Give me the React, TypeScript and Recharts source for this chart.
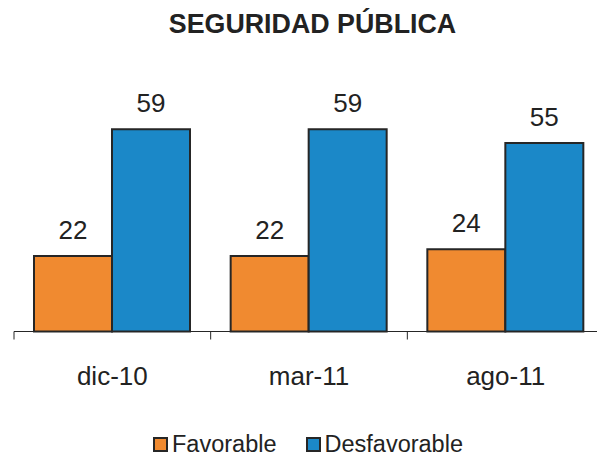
import React from "react";
import { BarChart, Bar, XAxis, YAxis, LabelList, Legend } from "recharts";

const categories = ["dic-10", "mar-11", "ago-11"];
const favorable = [22, 22, 24];
const desfavorable = [59, 59, 55];
const seriesNames = ["Favorable", "Desfavorable"];
const title = "SEGURIDAD PÚBLICA";

const data = categories.map((c, i) => ({ name: c, Favorable: favorable[i], Desfavorable: desfavorable[i] }));

const FONT = '"Liberation Sans", Arial, sans-serif';
const ORANGE = "#F08A30";
const BLUE = "#1B88C8";
const DARK = "#262626";
const COLORS: Record<string, string> = { Favorable: ORANGE, Desfavorable: BLUE };

const CatTick = (props: any) => {
  const { x, y, payload, width, visibleTicksCount, index } = props;
  const band = width / visibleTicksCount;
  const left = x - band / 2;
  const right = x + band / 2;
  return (
    <g>
      <line x1={left} y1={y} x2={left} y2={y + 8} stroke={DARK} strokeWidth={1} />
      {index === visibleTicksCount - 1 && (
        <line x1={right} y1={y} x2={right} y2={y + 8} stroke={DARK} strokeWidth={1} />
      )}
      <text x={x} y={y + 53.5} textAnchor="middle" fontSize={26} fill="#222" fontFamily={FONT}>
        {payload.value}
      </text>
    </g>
  );
};

const LegendContent = () => {
  return (
    <div
      style={{
        height: 30,
        boxSizing: "border-box",
        paddingTop: 7,
        paddingLeft: 153,
        display: "flex",
        alignItems: "center",
        fontFamily: FONT,
        fontSize: 23.5,
        color: "#222",
      }}
    >
      {seriesNames.map((name, i) => (
        <div key={name} style={{ display: "flex", alignItems: "center", marginRight: i === 0 ? 29 : 0 }}>
          <div
            style={{
              width: 15,
              height: 15,
              boxSizing: "border-box",
              border: `2px solid ${DARK}`,
              background: COLORS[name],
              marginRight: 4,
            }}
          />
          <span style={{ lineHeight: "23px" }}>{name}</span>
        </div>
      ))}
    </div>
  );
};

export default function App() {
  return (
    <div style={{ position: "fixed", left: 0, top: 0, width: 597, height: 456, overflow: "hidden", background: "#fff" }}>
      <BarChart
        width={610}
        height={456}
        data={data}
        margin={{ top: 91.5, right: 6, left: 14, bottom: 0 }}
        barCategoryGap={20}
        barGap={0}
      >
        <text x={312.5} y={33} textAnchor="middle" fontSize={26.8} fontWeight="bold" fill="#222" fontFamily={FONT}>
          {title}
        </text>
        <XAxis
          dataKey="name"
          height={94.5}
          tickSize={0}
          tickMargin={0}
          tickLine={false}
          axisLine={{ stroke: DARK, strokeWidth: 1 }}
          tick={<CatTick />}
          interval={0}
        />
        <YAxis hide domain={[0, 70]} />
        <Legend
          verticalAlign="bottom"
          height={30}
          wrapperStyle={{ left: 0, top: 426, bottom: "auto", width: 597 }}
          content={<LegendContent />}
        />
        <Bar dataKey="Favorable" fill={ORANGE} stroke={DARK} strokeWidth={2} isAnimationActive={false}>
          <LabelList dataKey="Favorable" position="top" offset={17} fontSize={26} fill="#222" fontFamily={FONT} />
        </Bar>
        <Bar dataKey="Desfavorable" fill={BLUE} stroke={DARK} strokeWidth={2} isAnimationActive={false}>
          <LabelList dataKey="Desfavorable" position="top" offset={17} fontSize={26} fill="#222" fontFamily={FONT} />
        </Bar>
      </BarChart>
    </div>
  );
}
